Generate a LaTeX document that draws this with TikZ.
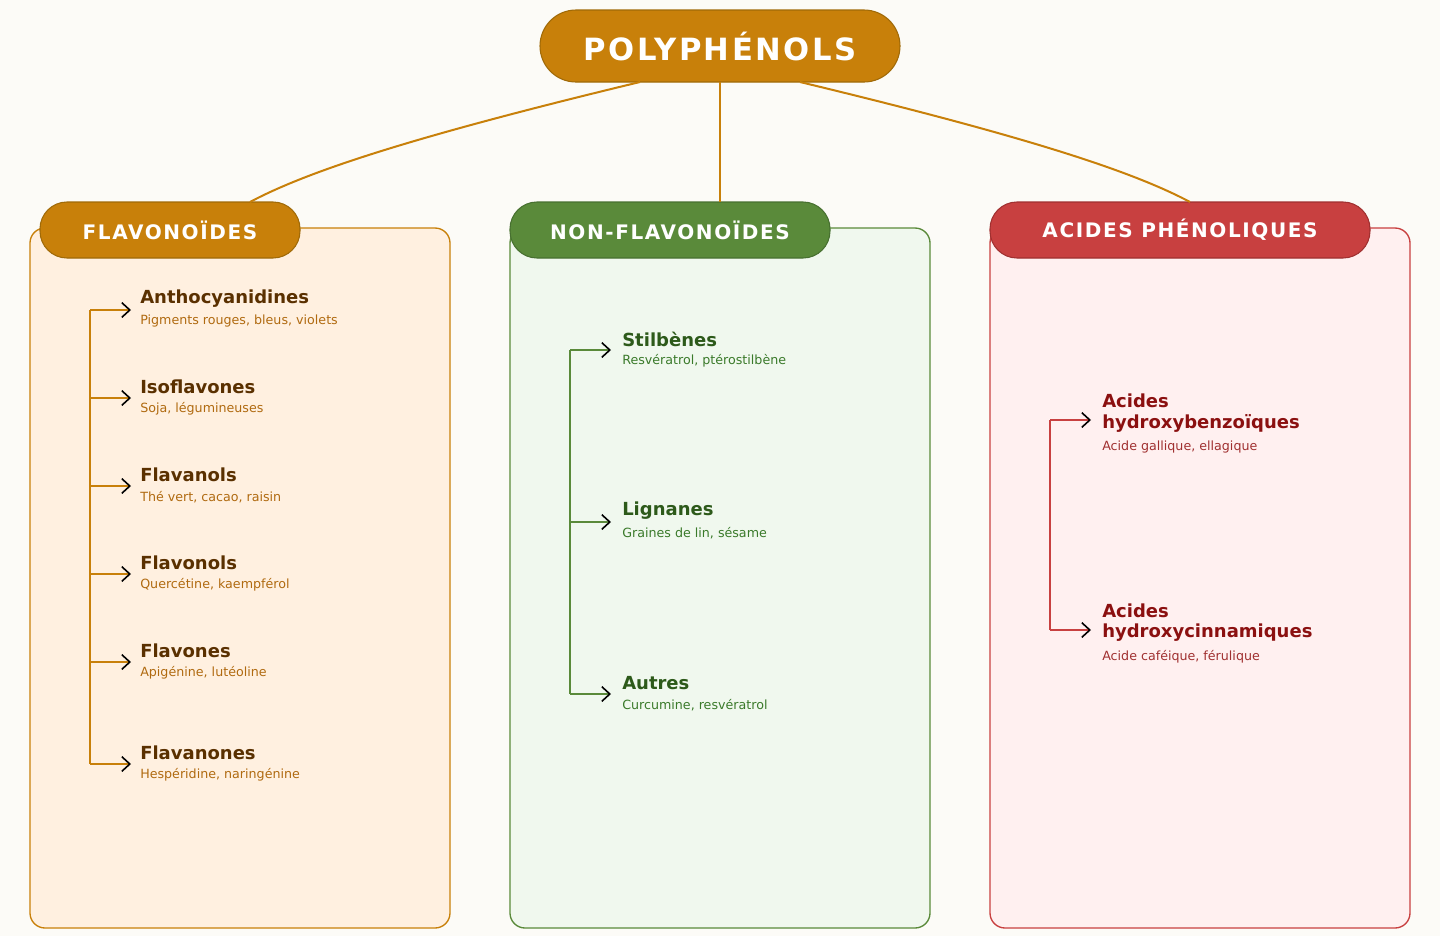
\documentclass[tikz,border=0pt]{standalone}
\usepackage{fontspec}
\setmainfont{DejaVu Sans}
\usetikzlibrary{arrows.meta}
\definecolor{bg}{HTML}{FCFBF7}
\definecolor{cO}{HTML}{C8800A}\definecolor{cOd}{HTML}{A06A08}
\definecolor{cG}{HTML}{5A8A3A}\definecolor{cGd}{HTML}{477030}
\definecolor{cR}{HTML}{C84040}\definecolor{cRd}{HTML}{A03030}
\definecolor{fO}{HTML}{FFF0E0}\definecolor{fG}{HTML}{F0F8EE}\definecolor{fR}{HTML}{FFF0F0}
\definecolor{tO}{HTML}{5A3000}\definecolor{sO}{HTML}{B06A10}
\definecolor{tG}{HTML}{2D5A1A}\definecolor{sG}{HTML}{3A7A2A}
\definecolor{tR}{HTML}{8B1010}\definecolor{sR}{HTML}{A03030}
\tikzset{
 box/.style={rounded corners=15*0.75pt,line width=1pt},
 pill/.style={rounded corners=27*0.75pt,line width=0.8pt,minimum height=56*0.75pt,text=white,font=\bfseries\fontsize{15}{18}\selectfont,inner sep=0pt},
 it/.style={anchor=west,inner sep=0pt,font=\bfseries\fontsize{13.5}{16}\selectfont},
 sub/.style={anchor=west,inner sep=0pt,font=\fontsize{9.5}{11}\selectfont},
 arr/.style={line width=1pt,-{Straight Barb[black,length=6pt,width=11pt,line width=1.2pt]}},
 link/.style={line width=1.5pt,color=cO}
}
\begin{document}
\begin{tikzpicture}[x=0.75pt,y=-0.75pt]
\fill[bg] (0,0) rectangle (1440,936);
\useasboundingbox (0,0) rectangle (1440,936);
% boxes
\draw[box,draw=cO,fill=fO] (30,228) rectangle (450,928);
\draw[box,draw=cG,fill=fG] (510,228) rectangle (930,928);
\draw[box,draw=cR,fill=fR] (990,228) rectangle (1410,928);
% title
\node[pill,fill=cO,draw=cOd,minimum width=360*0.75pt,minimum height=72*0.75pt,rounded corners=36*0.75pt,font=\bfseries\fontsize{23}{26}\selectfont] (T) at (720,46) {\addfontfeature{LetterSpace=8}POLYPHÉNOLS};
\node[pill,fill=cO,draw=cOd,minimum width=260*0.75pt] (F) at (170,230) {\addfontfeature{LetterSpace=8}FLAVONOÏDES};
\node[pill,fill=cG,draw=cGd,minimum width=320*0.75pt] (N) at (670,230) {\addfontfeature{LetterSpace=8}NON-FLAVONOÏDES};
\node[pill,fill=cR,draw=cRd,minimum width=380*0.75pt] (A) at (1180,230) {\addfontfeature{LetterSpace=8}ACIDES PHÉNOLIQUES};
\coordinate (t1) at (640,82);\coordinate (t2) at (720,82);\coordinate (t3) at (800,82);
\coordinate (f1) at (250,202);\coordinate (n1) at (720,202);\coordinate (a1) at (1190,202);
\draw[link] (t1) .. controls (420,135) and (310,170) .. (f1);
\draw[link] (t2) -- (n1);
\draw[link] (t3) .. controls (1020,135) and (1130,170) .. (a1);
% left items
\foreach \n/\y/\t/\s in {a/310/Anthocyanidines/{Pigments rouges, bleus, violets},b/398/Isoflavones/{Soja, légumineuses},c/486/Flavanols/{Thé vert, cacao, raisin},d/574/Flavonols/{Quercétine, kaempférol},e/662/Flavones/{Apigénine, lutéoline},f/764/Flavanones/{Hespéridine, naringénine}}{
 \node[it,text=tO] (L\n) at (140,\y-11) {\t};
 \node[sub,text=sO] (Ls\n) at (140,\y+11) {\s};
 \coordinate (Lc\n) at (90,\y); \coordinate (La\n) at (131,\y);
 \draw[arr,cO] (Lc\n) -- (La\n);
}
\draw[cO,line width=1pt] (Lca) -- (Lcf);
% middle items
\foreach \n/\y/\t/\s in {a/350/Stilbènes/{Resvératrol, ptérostilbène},b/522/Lignanes/{Graines de lin, sésame},c/694/Autres/{Curcumine, resvératrol}}{
 \node[it,text=tG] (M\n) at (622,\y-11) {\t};
 \node[sub,text=sG] (Ms\n) at (622,\y+11) {\s};
 \coordinate (Mc\n) at (570,\y); \coordinate (Ma\n) at (611,\y);
 \draw[arr,cG] (Mc\n) -- (Ma\n);
}
\draw[cG,line width=1pt] (Mca) -- (Mcc);
% right items
\foreach \n/\y/\t/\s in {a/420/hydroxybenzoïques/{Acide gallique, ellagique},b/630/hydroxycinnamiques/{Acide caféique, férulique}}{
 \node[it,text=tR] (R\n) at (1102,\y-19) {Acides};
 \node[it,text=tR] (Rt\n) at (1102,\y+3) {\t};
 \node[sub,text=sR] (Rs\n) at (1102,\y+27) {\s};
 \coordinate (Rc\n) at (1050,\y); \coordinate (Ra\n) at (1091,\y);
 \draw[arr,cR] (Rc\n) -- (Ra\n);
}
\draw[cR,line width=1pt] (Rca) -- (Rcb);
\end{tikzpicture}
\end{document}
